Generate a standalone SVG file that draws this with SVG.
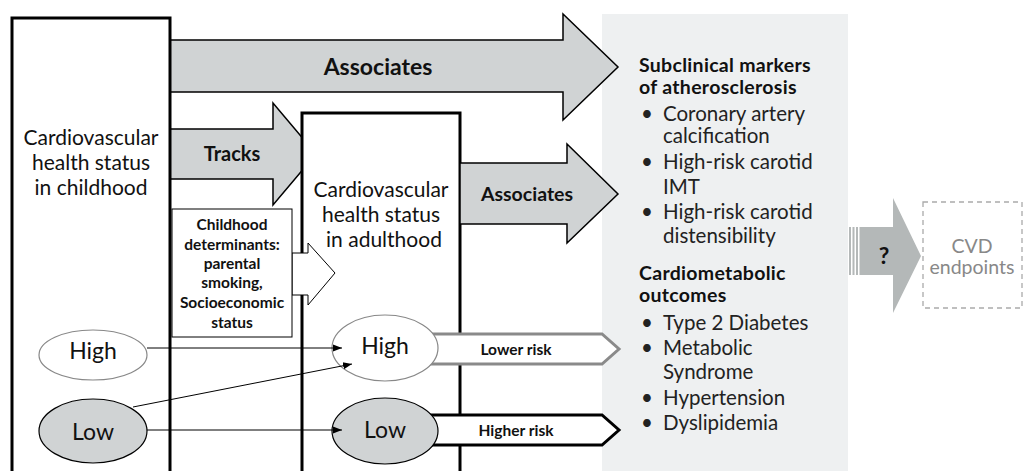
<svg xmlns="http://www.w3.org/2000/svg" width="1025" height="471" viewBox="0 0 1025 471">
<style>
.t{font-family:Lato,"Open Sans","Liberation Sans",sans-serif;fill:#111}
.b{font-weight:bold}
.box{fill:#fff;stroke:#000;stroke-width:3}
.garrow{fill:#d0d3d4;stroke:#000;stroke-width:1.5;stroke-linejoin:miter}
.lst{font-size:20.5px;fill:#222}
.hd{font-size:19.5px;font-weight:bold;letter-spacing:0.3px}
</style>
<defs>
<marker id="ah" viewBox="0 0 10 10" refX="10" refY="5" markerWidth="9" markerHeight="9" markerUnits="userSpaceOnUse" orient="auto">
<path d="M0,1 L10,5 L0,9 Z" fill="#000"/>
</marker>
</defs>
<rect width="1025" height="471" fill="#fff"/>

<g id="outcomes-panel">
<rect x="602" y="14" width="246" height="457" fill="#eef0f1"/>
<text class="t hd"><tspan x="639" y="72">Subclinical markers</tspan><tspan x="639" y="94">of atherosclerosis</tspan></text>
<g class="t lst">
<text x="641" y="121">•</text><text x="663" y="121">Coronary artery</text>
<text x="663" y="143">calcification</text>
<text x="641" y="169">•</text><text x="663" y="169">High-risk carotid</text>
<text x="663" y="194">IMT</text>
<text x="641" y="219">•</text><text x="663" y="219">High-risk carotid</text>
<text x="663" y="243">distensibility</text>
</g>
<text class="t hd"><tspan x="639" y="280">Cardiometabolic</tspan><tspan x="639" y="302">outcomes</tspan></text>
<g class="t lst">
<text x="641" y="330">•</text><text x="663" y="330">Type 2 Diabetes</text>
<text x="641" y="355">•</text><text x="663" y="355">Metabolic</text>
<text x="663" y="379">Syndrome</text>
<text x="641" y="405">•</text><text x="663" y="405">Hypertension</text>
<text x="641" y="430">•</text><text x="663" y="430">Dyslipidemia</text>
</g>
</g>

<g id="associates-childhood">
<path class="garrow" d="M170,40 L563,40 L563,14 L618,67 L563,120 L563,92 L170,92 Z"/>
<text class="t b" x="378" y="75" font-size="23" text-anchor="middle">Associates</text>
</g>

<g id="tracks">
<path class="garrow" d="M170,129 L273,129 L273,103 L316,154 L273,205 L273,179 L170,179 Z"/>
<text class="t b" x="232" y="161" font-size="20" text-anchor="middle">Tracks</text>
</g>

<g id="childhood-box">
<rect class="box" x="12" y="18" width="158" height="470"/>
<text class="t" font-size="21" text-anchor="middle"><tspan x="91" y="145">Cardiovascular</tspan><tspan x="91" y="170">health status</tspan><tspan x="91" y="195">in childhood</tspan></text>
</g>

<g id="adulthood-box">
<rect class="box" x="302" y="113" width="158" height="375"/>
<text class="t" font-size="21" text-anchor="middle"><tspan x="381" y="197">Cardiovascular</tspan><tspan x="381" y="222">health status</tspan><tspan x="384" y="247">in adulthood</tspan></text>
</g>

<g id="associates-adulthood">
<path class="garrow" d="M460,163 L567,163 L567,144 L618,194 L567,243 L567,224 L460,224 Z"/>
<text class="t b" x="527" y="201" font-size="19.5" text-anchor="middle">Associates</text>
</g>

<g id="determinants">
<path d="M292,253 L308,253 L308,243 L335,273 L308,305 L308,295 L292,295 Z" fill="#fff" stroke="#000" stroke-width="1"/>
<rect x="172" y="209" width="120" height="128" fill="#fff" stroke="#000" stroke-width="1"/>
<text class="t b" font-size="15.5" text-anchor="middle"><tspan x="232" y="230">Childhood</tspan><tspan x="232" y="250">determinants:</tspan><tspan x="232" y="269">parental</tspan><tspan x="232" y="288">smoking,</tspan><tspan x="232" y="308">Socioeconomic</tspan><tspan x="232" y="328">status</tspan></text>
</g>

<g id="lower-risk">
<path d="M415,334 L602,334 L619,349 L602,364 L415,364 Z" fill="#fff" stroke="#8a8a8a" stroke-width="3"/>
<text class="t b" x="516" y="355" font-size="15.5" text-anchor="middle">Lower risk</text>
</g>

<g id="higher-risk">
<path d="M415,415 L602,415 L619,430 L602,445 L415,445 Z" fill="#fff" stroke="#000" stroke-width="3"/>
<text class="t b" x="516" y="436" font-size="15.5" text-anchor="middle">Higher risk</text>
</g>

<g id="child-high">
<ellipse cx="93" cy="355" rx="54" ry="25" fill="#fff" stroke="#888" stroke-width="1.2"/>
<text class="t" x="93" y="353" font-size="23" text-anchor="middle" dominant-baseline="middle">High</text>
</g>
<g id="child-low">
<ellipse cx="93" cy="431" rx="54" ry="32" fill="#d0d3d4" stroke="#000" stroke-width="1.2"/>
<text class="t" x="93" y="434" font-size="23" text-anchor="middle" dominant-baseline="middle">Low</text>
</g>
<g id="adult-high">
<ellipse cx="385" cy="348" rx="53" ry="33" fill="#fff" stroke="#888" stroke-width="1.2"/>
<text class="t" x="385" y="348" font-size="23" text-anchor="middle" dominant-baseline="middle">High</text>
</g>
<g id="adult-low">
<ellipse cx="385" cy="431" rx="53" ry="33" fill="#d0d3d4" stroke="#000" stroke-width="1.2"/>
<text class="t" x="385" y="432" font-size="23" text-anchor="middle" dominant-baseline="middle">Low</text>
</g>

<g id="connectors" stroke="#000" stroke-width="1" fill="none">
<line x1="147" y1="348" x2="342" y2="348" marker-end="url(#ah)"/>
<line x1="133" y1="407" x2="352" y2="364" marker-end="url(#ah)"/>
<line x1="147" y1="430" x2="342" y2="430" marker-end="url(#ah)"/>
</g>

<g id="unknown-link">
<rect x="849" y="227" width="2" height="48" fill="#b4b8b8"/>
<rect x="852.5" y="227" width="2" height="48" fill="#b4b8b8"/>
<rect x="856" y="227" width="2" height="48" fill="#b4b8b8"/>
<path d="M859.5,227 L893,227 L893,198 L921,256 L893,313 L893,275 L859.5,275 Z" fill="#b4b8b8"/>
<text class="t b" x="884" y="264" font-size="23" text-anchor="middle">?</text>
</g>

<g id="cvd-endpoints">
<rect x="923" y="202" width="99" height="106" fill="none" stroke="#aaa" stroke-width="1.3" stroke-dasharray="5,4"/>
<text class="t" font-size="19.5" text-anchor="middle" style="fill:#888"><tspan x="972" y="253">CVD</tspan><tspan x="972" y="274">endpoints</tspan></text>
</g>
</svg>
